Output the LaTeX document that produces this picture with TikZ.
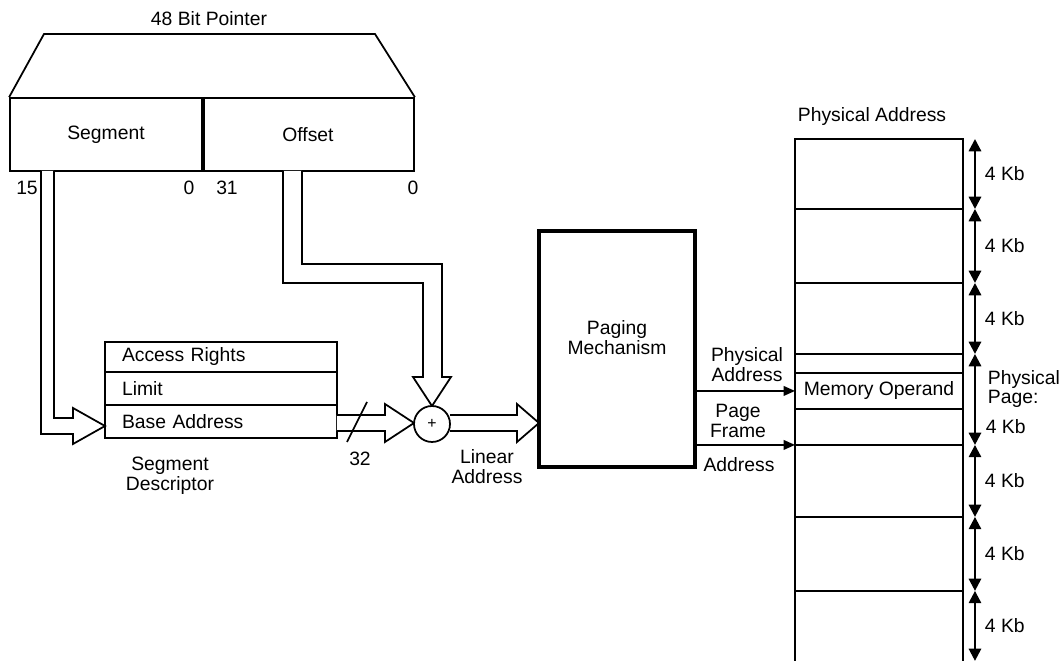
\documentclass[tikz,border=0pt]{standalone}
\usepackage{fontspec}
\setmainfont{Liberation Sans}
\usetikzlibrary{arrows.meta,positioning}

\begin{document}
\begin{tikzpicture}[
  x=0.02cm, y=-0.02cm, line width=1pt,
  font=\fontsize{11}{11.3}\selectfont,
  lbl/.style   = {align=center, inner sep=1pt},
  field/.style = {draw, minimum height=1.46cm, inner sep=0pt},
  row/.style   = {draw, text width=3.96cm, inner xsep=0.34cm, inner ysep=0pt,
                  outer sep=0pt, align=left},
  page/.style  = {draw, minimum width=3.36cm, inner sep=0pt, outer sep=0pt},
  fat/.style   = {draw, fill=white, line join=miter},
  ar/.style    = {-{Triangle[length=6.5pt,width=5.5pt]}},
  dim/.style   = {{Triangle[length=7pt,width=7pt]}-{Triangle[length=7pt,width=7pt]}, line width=1.3pt},
]
\useasboundingbox (0,0) rectangle (1063,661);

% ---- 48 bit pointer --------------------------------------------------------
\node[lbl] (ptrlbl) at (209,19) {48 Bit Pointer};
\node[field, minimum width=3.84cm] (seg) at (106,134.5) {Segment};
\node[field, minimum width=4.24cm] (off) at (308,134.5) {Offset};
\draw (seg.north west) -- (44,34) -- (375,34) -- (off.north east);
\draw[line width=2.4pt] (seg.north east) -- (seg.south east);

\node[lbl] (b15) at (27,188)  {15};
\node[lbl] (b0s) at (189,188) {0};
\node[lbl] (b31) at (227,188) {31};
\node[lbl] (b0o) at (413,188) {0};

% ---- segment descriptor ----------------------------------------------------
\node[row, minimum height=0.6cm]  (access) at (221,357) {Access Rights};
\node[row, minimum height=0.66cm, below=0pt of access] (limit) {Limit};
\node[row, minimum height=0.66cm, below=0pt of limit]  (base)  {Base Address};
\node[lbl] (desclbl) at (170,476) {Segment\\Descriptor};

% ---- wide arrows -----------------------------------------------------------
\draw[fat] (41,171) -- (41,434) -- (73,434) -- (73,444) -- (105,426)
  -- (73,408) -- (73,418) -- (54,418) -- (54,171);
\draw[fat] (283,171) -- (283,283) -- (423,283) -- (423,377) -- (413,377)
  -- (432,406) -- (451,377) -- (442,377) -- (442,264) -- (302,264) -- (302,171);
\draw[fat] (base.east |- 0,415) -- (385,415) -- (385,404) -- (414,423)
  -- (385,442) -- (385,431) -- (base.east |- 0,431);
\draw[fat] (450,415) -- (517,415) -- (517,404) -- (539,423) -- (517,442)
  -- (517,431) -- (450,431);

\node[draw, circle, fill=white, minimum size=0.72cm, inner sep=0pt] (add) at (432,424) {\small +};
\draw (347,442) -- (367,402);
\node[lbl] (width) at (360,459) {32};
\node[lbl] (linlbl) at (487,467) {Linear\\Address};

% ---- paging ----------------------------------------------------------------
\node[draw, line width=1.8pt, minimum width=3.12cm, minimum height=4.72cm] (pag) at (617,349) {};
\node[lbl] (paglbl) at (617,338) {Paging\\Mechanism};

% ---- physical memory -------------------------------------------------------
\node[lbl] (memlbl) at (872,117) {Physical Address};
\node[page, minimum height=1.4cm]  (pg1) at (879,174) {};
\node[page, minimum height=1.48cm, below=0pt of pg1] (pg2) {};
\node[page, minimum height=1.42cm, below=0pt of pg2] (pg3) {};
\node[page, minimum height=1.82cm, below=0pt of pg3] (pg4) {};
\node[page, minimum height=1.44cm, below=0pt of pg4] (pg5) {};
\node[page, minimum height=1.48cm, below=0pt of pg5] (pg6) {};
\node[page, draw=none, minimum height=1.4cm, below=0pt of pg6] (pg7) {};
\draw (pg7.north west) -- (pg7.south west) (pg7.north east) -- (pg7.south east);
\node[page, minimum height=0.72cm, below=0.38cm of pg4.north] (mo) {Memory Operand};

\draw[ar] (pag.east |- mo.west) -- (mo.west);
\draw[ar] (pag.east |- pg5.north west) -- (pg5.north west);
\node[lbl] (physlbl)  at (747,365) {Physical\\Address};
\node[lbl] (framelbl) at (738,421) {Page\\Frame};
\node[lbl] (addrlbl)  at (739,465) {Address};

\foreach \p in {pg1,pg2,pg3,pg5,pg6,pg7}
  \draw[dim] ([xshift=0.24cm]\p.north east) -- ([xshift=0.24cm]\p.south east)
    node[midway, right, xshift=0.06cm] {4 Kb};
\draw[dim] ([xshift=0.24cm]pg4.north east) -- ([xshift=0.24cm]pg4.south east);
\node[align=left, anchor=west, inner sep=0pt] (pplbl) at (987,389) {Physical\\Page:};
\node[anchor=west, inner sep=0pt] (ppsize) at (985,427) {4 Kb};

\end{tikzpicture}
\end{document}
